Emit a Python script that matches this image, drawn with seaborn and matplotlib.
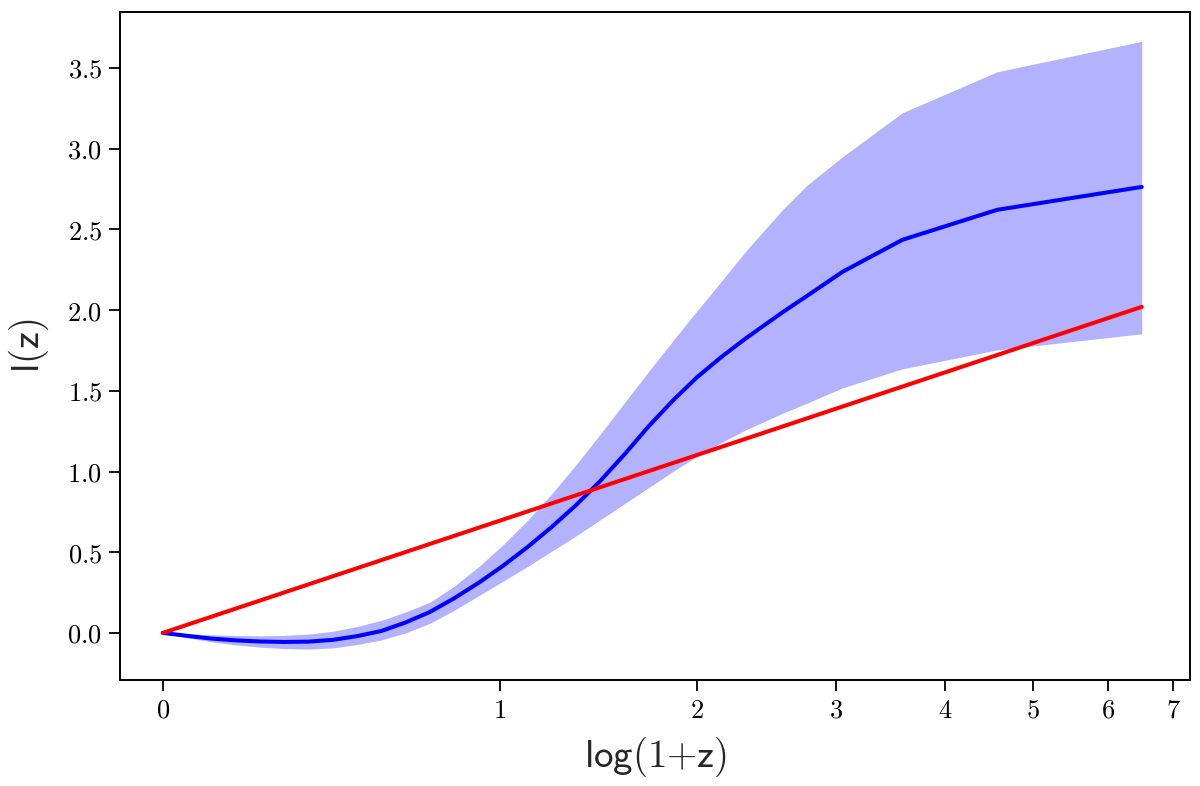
import numpy as np
import pandas as pd
import matplotlib
matplotlib.use("Agg")
import matplotlib.pyplot as plt
from matplotlib.ticker import FuncFormatter
import seaborn as sns

# grid in log(1+z) and reconstructed l(z) with its band
log1pz = [0.0, 0.05, 0.10, 0.15, 0.20, 0.25, 0.30, 0.35, 0.40, 0.45,
          0.50, 0.55, 0.60, 0.65, 0.70, 0.75, 0.80, 0.85, 0.90, 0.95,
          1.00, 1.05, 1.10, 1.15, 1.20, 1.275, 1.327, 1.399, 1.522,
          1.717, 2.015]
l_mean = [0.0, -0.018, -0.035, -0.046, -0.053, -0.056, -0.054, -0.043,
          -0.02, 0.012, 0.065, 0.13, 0.215, 0.31, 0.415, 0.53, 0.655,
          0.79, 0.94, 1.105, 1.28, 1.44, 1.585, 1.71, 1.825, 1.985, 2.09,
          2.237, 2.435, 2.621, 2.763]
l_upper = [0.0, -0.006, -0.012, -0.016, -0.018, -0.015, -0.007, 0.01,
           0.04, 0.078, 0.13, 0.19, 0.29, 0.41, 0.545, 0.695, 0.86, 1.04,
           1.23, 1.425, 1.62, 1.81, 1.997, 2.18, 2.365, 2.62, 2.776, 2.95,
           3.222, 3.476, 3.665]
l_lower = [0.0, -0.03, -0.055, -0.074, -0.088, -0.097, -0.100, -0.093,
           -0.072, -0.043, 0.0, 0.06, 0.14, 0.23, 0.32, 0.41, 0.505,
           0.60, 0.70, 0.80, 0.90, 1.00, 1.095, 1.18, 1.258, 1.36, 1.425,
           1.518, 1.636, 1.753, 1.853]

# reference straight line
x_ref = [0.0, 2.015]
l_ref = [0.0, 2.02]

z_ticks = [0, 1, 2, 3, 4, 5, 6, 7]
y_ticks = [0.0, 0.5, 1.0, 1.5, 2.0, 2.5, 3.0, 3.5]

sns.set_style("ticks")
plt.rcParams['mathtext.fontset'] = 'cm'
plt.rcParams['font.family'] = ['DejaVu Sans']

df = pd.DataFrame({"x": log1pz, "mean": l_mean,
                   "lo": l_lower, "hi": l_upper})
df_ref = pd.DataFrame({"x": x_ref, "y": l_ref})

fig = plt.figure(figsize=(12, 7.86), dpi=100)
ax = fig.add_axes([0.1, 0.135, 0.892, 0.85])

ax.fill_between(df["x"], df["lo"], df["hi"], color="blue", alpha=0.3,
                linewidth=0)
sns.lineplot(data=df, x="x", y="mean", color="blue", lw=2.9, ax=ax,
             sort=False)
sns.lineplot(data=df_ref, x="x", y="y", color="red", lw=2.9, ax=ax,
             sort=False)

ax.set_xlim(-0.088, 2.115)
ax.set_ylim(-0.291, 3.848)
ax.set_xticks(np.log1p(z_ticks))
ax.set_xticklabels([f"${t}$" for t in z_ticks])
ax.set_yticks(y_ticks)
ax.yaxis.set_major_formatter(FuncFormatter(lambda v, p: f"${v:.1f}$"))
ax.tick_params(labelsize=19, length=8, width=1.3, pad=5,
               direction="out", colors="black")
for s in ax.spines.values():
    s.set_linewidth(1.4)
    s.set_color("black")

ax.set_xlabel(r"$\mathsf{log(1{+}z)}$", fontsize=28, labelpad=8)
ax.set_ylabel(r"$\mathsf{l(z)}$", fontsize=28, labelpad=12)

fig.savefig("out.png", dpi=100)
